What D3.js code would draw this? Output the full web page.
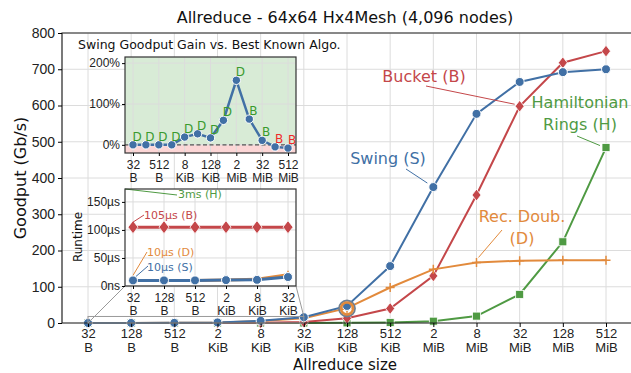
<!DOCTYPE html>
<html>
<head>
<meta charset="utf-8">
<script src="https://cdn.jsdelivr.net/npm/d3@7/dist/d3.min.js"></script>
<style>
  body { margin: 0; background: #fff; }
  svg { font-family: "DejaVu Sans", sans-serif; }
  .grid line { stroke: #dcdcdc; stroke-width: 1; }
</style>
</head>
<body>
<svg id="chart" width="631" height="373"></svg>
<script>
// sizes shown on the x axis
var sizes = [['32', 'B'], ['128', 'B'], ['512', 'B'], ['2', 'KiB'], ['8', 'KiB'], ['32', 'KiB'],
  ['128', 'KiB'], ['512', 'KiB'], ['2', 'MiB'], ['8', 'MiB'], ['32', 'MiB'], ['128', 'MiB'], ['512', 'MiB']]
var goodputTicks = [0, 100, 200, 300, 400, 500, 600, 700, 800]

// goodput in Gb/s, one value per size
var swing = [0.026, 0.1, 0.4, 1.6, 6, 16, 47, 157, 375, 577, 665, 692, 700]
var bucket = [0.002, 0.01, 0.04, 0.16, 0.6, 2.5, 13, 40, 130, 353, 598, 718, 750]
var recDoub = [0.026, 0.1, 0.4, 1.6, 5.5, 13, 41, 98, 148, 167, 172, 173, 173]
var hamilton = [0.0001, 0.0003, 0.001, 0.005, 0.02, 0.09, 0.35, 1.4, 5, 19, 79, 224, 484]

// swing gain over the best known algorithm, and who that algorithm is
var gain = [0, 0, 0, 0, 0.19, 0.27, 0.17, 0.6, 1.58, 0.63, 0.11, -0.05, -0.08]
var bestAlgo = ['D', 'D', 'D', 'D', 'D', 'D', 'D', 'D', 'D', 'B', 'B', 'B', 'B']
var gainTicks = [0, 1, 2]

// runtime in microseconds for the six smallest sizes
var rtSwing = [10, 10, 10, 10.5, 11, 16]
var rtRecDoub = [10, 10, 10, 10.5, 12, 20]
var rtBucket = [105, 105, 105, 105, 105, 105]
var runtimeTicks = [0, 50, 100, 150]

var col = { S: '#4170a5', B: '#c4474a', D: '#e28a3c', H: '#4f9a43' }

var svg = d3.select('#chart')
var idx = d3.range(sizes.length)

function twoLineTicks(g, labels, dy, size) {
  g.selectAll('.tick text').each(function (d) {
    var t = d3.select(this).text(null).attr('font-size', size)
    t.append('tspan').attr('x', 0).attr('dy', '0.71em').text(labels[d][0])
    t.append('tspan').attr('x', 0).attr('dy', dy).text(labels[d][1])
  })
}

function marker(g, kind, cx, cy, color, r) {
  if (kind === 'circle') {
    g.append('circle').attr('cx', cx).attr('cy', cy).attr('r', r)
      .attr('fill', color).attr('stroke', '#fff').attr('stroke-width', 1)
  } else if (kind === 'diamond') {
    g.append('path').attr('d', 'M' + cx + ',' + (cy - r * 1.3) + 'L' + (cx + r) + ',' + cy +
      'L' + cx + ',' + (cy + r * 1.3) + 'L' + (cx - r) + ',' + cy + 'Z')
      .attr('fill', color).attr('stroke', '#fff').attr('stroke-width', 0.8)
  } else if (kind === 'square') {
    g.append('rect').attr('x', cx - r).attr('y', cy - r).attr('width', 2 * r).attr('height', 2 * r)
      .attr('fill', color).attr('stroke', '#fff').attr('stroke-width', 0.8)
  } else if (kind === 'plus') {
    g.append('path').attr('d', 'M' + (cx - r) + ',' + cy + 'H' + (cx + r) + 'M' + cx + ',' + (cy - r) + 'V' + (cy + r))
      .attr('stroke', color).attr('stroke-width', 1.5)
  }
}

// ---------- main plot ----------
var M = { left: 62, right: 632, top: 33, bottom: 323 }
var x = d3.scalePoint().domain(idx).range([88, 606])
var y = d3.scaleLinear().domain([0, 800]).range([M.bottom, M.top])

var grid = svg.append('g').attr('class', 'grid')
grid.selectAll('.v').data(idx).join('line')
  .attr('x1', d => x(d)).attr('x2', d => x(d)).attr('y1', M.top).attr('y2', M.bottom)
grid.selectAll('.h').data(goodputTicks).join('line')
  .attr('x1', M.left).attr('x2', M.right).attr('y1', d => y(d)).attr('y2', d => y(d))

var series = [
  { v: hamilton, c: col.H, m: 'square', r: 4 },
  { v: bucket, c: col.B, m: 'diamond', r: 4.5 },
  { v: recDoub, c: col.D, m: 'plus', r: 4.5 },
  { v: swing, c: col.S, m: 'circle', r: 4.5 }
]
var line = d3.line().x((d, i) => x(i)).y(d => y(d))
series.forEach(function (s) {
  svg.append('path').datum(s.v).attr('d', line)
    .attr('fill', 'none').attr('stroke', s.c).attr('stroke-width', 2)
  var g = svg.append('g')
  s.v.forEach(function (d, i) { marker(g, s.m, x(i), y(d), s.c, s.r) })
})

// highlight ring at 128 KiB
svg.append('circle').attr('cx', x(6)).attr('cy', y(40)).attr('r', 8)
  .attr('fill', 'none').attr('stroke', '#6d7f93').attr('stroke-width', 1.8)
svg.append('circle').attr('cx', x(6)).attr('cy', y(40)).attr('r', 6)
  .attr('fill', 'none').attr('stroke', col.D).attr('stroke-width', 2.5)

// frame
svg.append('path').attr('d', 'M' + M.right + ',' + M.top + 'H' + M.left + 'V' + M.bottom + 'H' + M.right)
  .attr('fill', 'none').attr('stroke', '#222').attr('stroke-width', 1.2)

var yAxis = svg.append('g').attr('transform', 'translate(' + M.left + ',0)')
  .call(d3.axisLeft(y).tickValues(goodputTicks).tickSize(4).tickPadding(3))
yAxis.select('.domain').remove()
yAxis.selectAll('text').attr('font-size', 14).attr('fill', '#222')

var xAxis = svg.append('g').attr('transform', 'translate(0,' + M.bottom + ')')
  .call(d3.axisBottom(x).tickSize(4).tickPadding(2))
xAxis.select('.domain').remove()
twoLineTicks(xAxis, sizes, '1.08em', 13)
xAxis.selectAll('text').attr('fill', '#222')

svg.append('text').attr('x', 345).attr('y', 23).attr('text-anchor', 'middle')
  .attr('font-size', 16).attr('fill', '#111').text('Allreduce - 64x64 Hx4Mesh (4,096 nodes)')
svg.append('text').attr('x', 345).attr('y', 369.5).attr('text-anchor', 'middle')
  .attr('font-size', 15).attr('fill', '#111').text('Allreduce size')
svg.append('text').attr('transform', 'translate(26,178) rotate(-90)').attr('text-anchor', 'middle')
  .attr('font-size', 16).attr('fill', '#111').text('Goodput (Gb/s)')

// series annotations
function note(lines, tx, ty, color, x1, y1, x2, y2, size) {
  svg.append('line').attr('x1', x1).attr('y1', y1).attr('x2', x2).attr('y2', y2)
    .attr('stroke', color).attr('stroke-width', 1)
  var t = svg.append('text').attr('text-anchor', 'middle').attr('font-size', size).attr('fill', color)
  lines.forEach(function (l, i) {
    t.append('tspan').attr('x', tx).attr('y', ty + i * size * 1.35).text(l)
  })
}
note(['Bucket (B)'], 424, 82, col.B, 426, 86, x(10) - 5, y(bucket[10]) - 2, 16)
note(['Swing (S)'], 388, 164, col.S, 406, 169, x(8) - 6, y(swing[8]) - 4, 16)
note(['Hamiltonian', 'Rings (H)'], 580, 108, col.H, 577, 136, x(12) - 6, y(hamilton[12]) - 2, 16)
note(['Rec. Doub.', '(D)'], 522, 222, col.D, 502, 230, x(9) + 2, y(recDoub[9]) - 5, 16)

// ---------- inset: goodput gain ----------
var I1 = { left: 125, right: 296, top: 57, bottom: 153 }
var gx = d3.scalePoint().domain(idx).range([133, 288])
var gy = d3.scaleLinear().domain([-0.2, 2.15]).range([I1.bottom, I1.top])
var gainTickIdx = [0, 2, 4, 6, 8, 10, 12]

svg.append('text').attr('x', 78).attr('y', 49).attr('font-size', 12.5).attr('fill', '#111')
  .text('Swing Goodput Gain vs. Best Known Algo.')
svg.append('rect').attr('x', I1.left).attr('y', I1.top).attr('width', I1.right - I1.left)
  .attr('height', gy(0) - I1.top).attr('fill', '#d8ebd6')
svg.append('rect').attr('x', I1.left).attr('y', gy(0)).attr('width', I1.right - I1.left)
  .attr('height', I1.bottom - gy(0)).attr('fill', '#fcd6d6')
var g1 = svg.append('g').attr('class', 'grid')
g1.selectAll('.v').data(gainTickIdx).join('line')
  .attr('x1', d => gx(d)).attr('x2', d => gx(d)).attr('y1', I1.top).attr('y2', I1.bottom)
g1.selectAll('.h').data(gainTicks).join('line')
  .attr('x1', I1.left).attr('x2', I1.right).attr('y1', d => gy(d)).attr('y2', d => gy(d))
svg.append('line').attr('x1', I1.left).attr('x2', I1.right).attr('y1', gy(0)).attr('y2', gy(0))
  .attr('stroke', '#555').attr('stroke-width', 1.2).attr('stroke-dasharray', '4,2.5')
svg.append('path').datum(gain).attr('d', d3.line().x((d, i) => gx(i)).y(d => gy(d)))
  .attr('fill', 'none').attr('stroke', col.S).attr('stroke-width', 2.5)
var gm = svg.append('g')
gain.forEach(function (d, i) {
  marker(gm, 'circle', gx(i), gy(d), col.S, 4.2)
  gm.append('text').attr('x', gx(i) + 4).attr('y', gy(d) - 4).attr('text-anchor', 'middle')
    .attr('font-size', 12).attr('fill', d >= 0 ? '#3a9a2e' : '#f02a2a').text(bestAlgo[i])
})
svg.append('rect').attr('x', I1.left).attr('y', I1.top).attr('width', I1.right - I1.left)
  .attr('height', I1.bottom - I1.top).attr('fill', 'none').attr('stroke', '#333').attr('stroke-width', 1.2)
var g1y = svg.append('g').attr('transform', 'translate(' + I1.left + ',0)')
  .call(d3.axisLeft(gy).tickValues(gainTicks).tickFormat(d => d * 100 + '%').tickSize(3).tickPadding(2))
g1y.select('.domain').remove()
g1y.selectAll('text').attr('font-size', 12).attr('fill', '#222')
var g1x = svg.append('g').attr('transform', 'translate(0,' + I1.bottom + ')')
  .call(d3.axisBottom(gx).tickValues(gainTickIdx).tickSize(3).tickPadding(4))
g1x.select('.domain').remove()
twoLineTicks(g1x, sizes, '1.1em', 12)
g1x.selectAll('text').attr('fill', '#222')

// ---------- inset: runtime ----------
var I2 = { left: 125, right: 296, top: 189, bottom: 286 }
var rIdx = d3.range(6)
var rx = d3.scalePoint().domain(rIdx).range([133, 288])
var ry = d3.scaleLinear().domain([0, 173]).range([I2.bottom, I2.top])

// zoom rectangle and connectors
svg.append('rect').attr('x', x(0)).attr('y', y(18)).attr('width', x(5) - x(0)).attr('height', y(0) - y(18))
  .attr('fill', 'none').attr('stroke', '#9a9a9a').attr('stroke-width', 1)
svg.append('line').attr('x1', I2.left).attr('y1', I2.bottom).attr('x2', x(0)).attr('y2', y(0))
  .attr('stroke', '#9a9a9a').attr('stroke-width', 1)
svg.append('line').attr('x1', I2.right).attr('y1', I2.bottom).attr('x2', x(5)).attr('y2', y(18))
  .attr('stroke', '#9a9a9a').attr('stroke-width', 1)

svg.append('rect').attr('x', I2.left).attr('y', I2.top).attr('width', I2.right - I2.left)
  .attr('height', I2.bottom - I2.top).attr('fill', '#fff')
var g2 = svg.append('g').attr('class', 'grid')
g2.selectAll('.v').data(rIdx).join('line')
  .attr('x1', d => rx(d)).attr('x2', d => rx(d)).attr('y1', I2.top).attr('y2', I2.bottom)
g2.selectAll('.h').data(runtimeTicks).join('line')
  .attr('x1', I2.left).attr('x2', I2.right).attr('y1', d => ry(d)).attr('y2', d => ry(d))

var rline = d3.line().x((d, i) => rx(i)).y(d => ry(d))
var rseries = [
  { v: rtBucket, c: col.B, m: 'diamond', r: 5 },
  { v: rtRecDoub, c: col.D, m: 'plus', r: 4 },
  { v: rtSwing, c: col.S, m: 'circle', r: 4.5 }
]
rseries.forEach(function (s) {
  svg.append('path').datum(s.v).attr('d', rline)
    .attr('fill', 'none').attr('stroke', s.c).attr('stroke-width', 3)
  var g = svg.append('g')
  s.v.forEach(function (d, i) { marker(g, s.m, rx(i), ry(d), s.c, s.r) })
})

function smallNote(txt, tx, ty, color, x1, y1, x2, y2) {
  svg.append('line').attr('x1', x1).attr('y1', y1).attr('x2', x2).attr('y2', y2)
    .attr('stroke', color).attr('stroke-width', 1)
  svg.append('text').attr('x', tx).attr('y', ty).attr('font-size', 11).attr('fill', color).text(txt)
}
smallNote('3ms (H)', 178, 198, col.H, I2.left, I2.top, 177, 195)
smallNote('105µs (B)', 144, 219, col.B, rx(0), ry(105) - 5, 144, 215)
smallNote('10µs (D)', 147, 256, col.D, rx(0), ry(10) - 5, 147, 252)
smallNote('10µs (S)', 147, 271, col.S, rx(0) + 3, ry(10) - 4, 148, 266)

svg.append('rect').attr('x', I2.left).attr('y', I2.top).attr('width', I2.right - I2.left)
  .attr('height', I2.bottom - I2.top).attr('fill', 'none').attr('stroke', '#333').attr('stroke-width', 1.2)
var g2y = svg.append('g').attr('transform', 'translate(' + I2.left + ',0)')
  .call(d3.axisLeft(ry).tickValues(runtimeTicks).tickFormat(d => d === 0 ? '0ns' : d + 'µs').tickSize(3).tickPadding(2))
g2y.select('.domain').remove()
g2y.selectAll('text').attr('font-size', 12).attr('fill', '#222')
var g2x = svg.append('g').attr('transform', 'translate(0,' + I2.bottom + ')')
  .call(d3.axisBottom(rx).tickSize(3).tickPadding(4))
g2x.select('.domain').remove()
twoLineTicks(g2x, sizes, '1.1em', 12)
g2x.selectAll('text').attr('fill', '#222')
svg.append('text').attr('transform', 'translate(82,237) rotate(-90)').attr('text-anchor', 'middle')
  .attr('font-size', 12).attr('fill', '#111').text('Runtime')
</script>
</body>
</html>
